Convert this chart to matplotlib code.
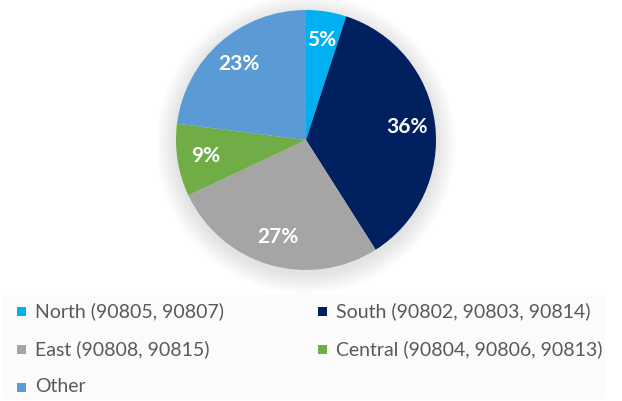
import matplotlib
matplotlib.use("Agg")
import matplotlib.pyplot as plt
from matplotlib.patches import Rectangle, Circle

categories = ["North (90805, 90807)", "South (90802, 90803, 90814)",
              "East (90808, 90815)", "Central (90804, 90806, 90813)", "Other"]
values = [5, 36, 27, 9, 23]
colors = ["#00B0F0", "#002060", "#A5A5A5", "#70AD47", "#5B9BD5"]

W, H = 622, 401
fig = plt.figure(figsize=(W / 100, H / 100), dpi=100)
fig.patch.set_facecolor("white")

FONT = ["Lato", "DejaVu Sans"]

# faint legend background
fig.add_artist(Rectangle((3 / W, 1 - 399 / H), 602 / W, 104 / H,
                         transform=fig.transFigure, facecolor="#fbfbfb",
                         edgecolor="none", zorder=0))

cx, cy, R = 306, 140, 130
span = 1.3
ax = fig.add_axes([(cx - span * R) / W, (H - cy - span * R) / H,
                   2 * span * R / W, 2 * span * R / H])

# soft shadow
for i in range(14):
    ax.add_patch(Circle((0, -0.03), 1.0 + 0.011 * (i + 1), facecolor="black",
                        edgecolor="none", alpha=0.008, zorder=0))

wedges, texts, autotexts = ax.pie(
    values, colors=colors, startangle=90, counterclock=False,
    autopct=lambda p: f"{p:.0f}%", pctdistance=0.78, radius=1.0,
    wedgeprops=dict(linewidth=0), frame=True,
    textprops=dict(color="white", fontsize=15, fontweight="bold", family=FONT))
ax.set_xlim(-span, span)
ax.set_ylim(-span, span)
ax.axis("off")

# legend (row-major, two columns)
rows_y = [311, 349, 387]
cols_x = [17, 318]
for i, (lab, col) in enumerate(zip(categories, colors)):
    r, c = divmod(i, 2)
    x, y = cols_x[c], rows_y[r]
    fig.add_artist(Rectangle((x / W, 1 - (y + 4.5) / H), 9 / W, 9 / H,
                             transform=fig.transFigure, facecolor=col,
                             edgecolor="none"))
    fig.text((x + 18) / W, 1 - y / H, lab, ha="left", va="center",
             fontsize=14, color="#595959", family=FONT)

fig.savefig("out.png", dpi=100)
